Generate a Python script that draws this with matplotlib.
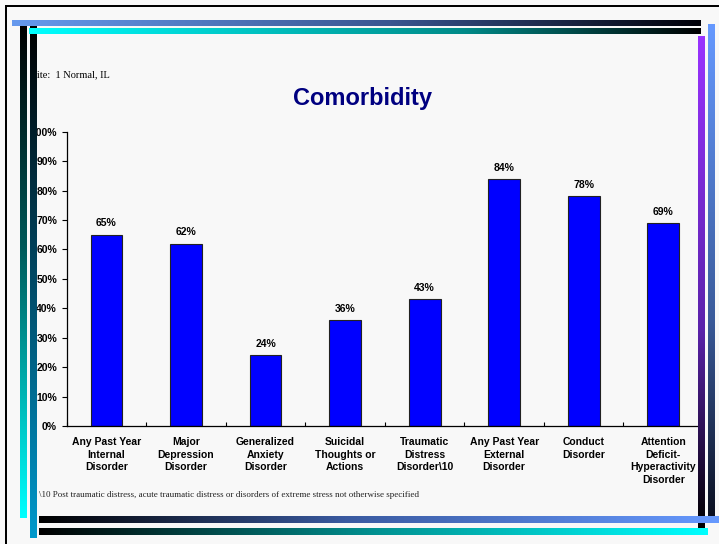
import numpy as np
import matplotlib
matplotlib.use("Agg")
import matplotlib.pyplot as plt
from matplotlib.colors import LinearSegmentedColormap
from matplotlib.ticker import FixedLocator, PercentFormatter

# --- chart data ---
categories = [
    "Any Past Year\nInternal\nDisorder",
    "Major\nDepression\nDisorder",
    "Generalized\nAnxiety\nDisorder",
    "Suicidal\nThoughts or\nActions",
    "Traumatic\nDistress\nDisorder\\10",
    "Any Past Year\nExternal\nDisorder",
    "Conduct\nDisorder",
    "Attention\nDeficit-\nHyperactivity\nDisorder",
]
percent_values = [65, 62, 24, 36, 43, 84, 78, 69]
y_ticks = [0, 10, 20, 30, 40, 50, 60, 70, 80, 90, 100]

title_text = "Comorbidity"
site_text = "Site:  1 Normal, IL"
footnote_text = ("\\10 Post traumatic distress, acute traumatic distress or disorders "
                 "of extreme stress not otherwise specified")

W, H = 719, 544
BG = "#F8F8F8"
SANS = ["Liberation Sans", "DejaVu Sans"]
SERIF = ["Liberation Serif", "DejaVu Serif"]

fig = plt.figure(figsize=(W / 100, H / 100), dpi=100, facecolor=BG)

# --- main bar chart ---
ax = fig.add_axes([66.7 / W, 1 - 426 / H, (703 - 66.7) / W, (426 - 131.7) / H])
ax.set_facecolor(BG)
x = np.arange(len(categories))
ax.bar(x, percent_values, width=0.4, color="#0000FF", edgecolor="#222222", linewidth=0.8)

for xi, v in zip(x, percent_values):
    ax.annotate(f"{v}%", (xi, v), xytext=(0, 4.5), textcoords="offset points",
                ha="center", va="bottom", fontsize=7.5, fontweight="bold", family=SANS)

ax.set_xlim(-0.5, len(categories) - 0.5)
ax.set_ylim(0, 100)
ax.yaxis.set_major_locator(FixedLocator(y_ticks))
ax.yaxis.set_major_formatter(PercentFormatter(decimals=0))
ax.tick_params(axis="y", direction="out", length=3.5, width=0.8, pad=3.4,
               labelsize=7.5)
for lbl in ax.get_yticklabels():
    lbl.set_fontweight("bold")
    lbl.set_family(SANS)

ax.set_xticks(x)
ax.set_xticklabels(categories, fontsize=7.5, fontweight="bold", family=SANS,
                   linespacing=1.32)
ax.tick_params(axis="x", length=0, pad=8)
ax.set_xticks(np.arange(len(categories) + 1) - 0.5, minor=True)
ax.tick_params(axis="x", which="minor", direction="in", length=3, width=0.8)

for side in ("top", "right"):
    ax.spines[side].set_visible(False)
for side in ("left", "bottom"):
    ax.spines[side].set_linewidth(0.9)

# --- slide text ---
fig.text(362 / W, 1 - 105 / H, title_text, ha="center", va="baseline",
         fontsize=17, fontweight="bold", color="#000080", family=SANS)
fig.text(31 / W, 1 - 77 / H, site_text, ha="left", va="baseline",
         fontsize=7.5, family=SERIF)
fig.text(39 / W, 1 - 497 / H, footnote_text, ha="left", va="baseline",
         fontsize=6.5, family=SERIF, color="#222222")

# --- decorative gradient bars (drawn on top) ---
deco = fig.add_axes([0, 0, 1, 1], zorder=10)
deco.set_xlim(0, W)
deco.set_ylim(H, 0)
deco.axis("off")
deco.patch.set_alpha(0)


def grad_bar(x0, x1, y0, y1, stops, horizontal=True):
    cmap = LinearSegmentedColormap.from_list("g", stops)
    g = np.linspace(0, 1, 256)
    img = g[np.newaxis, :] if horizontal else g[:, np.newaxis]
    deco.imshow(img, cmap=cmap, extent=(x0, x1, y1, y0), aspect="auto",
                interpolation="bilinear")


# black frame lines
deco.add_patch(plt.Rectangle((5, 5), 2, H, color="black", lw=0))
deco.add_patch(plt.Rectangle((5, 5), W, 2, color="black", lw=0))

# verticals
grad_bar(20, 27, 26, 518, [(0, "#000000"), (0.45, "#005a5a"), (1, "#00FFFF")], horizontal=False)
grad_bar(30, 37, 26, 538, [(0, "#000000"), (0.5, "#004a66"), (1, "#0099CC")], horizontal=False)
grad_bar(698, 705, 36, 528, [(0, "#9933FF"), (0.6, "#5a22aa"), (1, "#000000")], horizontal=False)
grad_bar(708, 715, 24, 517, [(0, "#6699FF"), (0.6, "#3a5a9a"), (1, "#0a0f20")], horizontal=False)

# top horizontals
grad_bar(12, 701, 20, 26, [(0, "#6699EE"), (0.55, "#3a5590"), (1, "#000008")])
grad_bar(29, 701, 28, 34, [(0, "#00FFFF"), (0.65, "#008a88"), (1, "#000000")])

# bottom horizontals
grad_bar(39, 719, 516, 523, [(0, "#000000"), (0.45, "#3a5aa0"), (1, "#6699FF")])
grad_bar(39, 708, 528, 535, [(0, "#000000"), (0.5, "#009090"), (1, "#00FFFF")])

fig.savefig("out.png", dpi=100, facecolor=BG)
